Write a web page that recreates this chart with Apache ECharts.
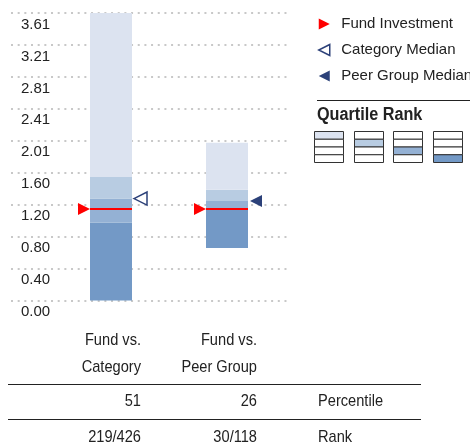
<!DOCTYPE html>
<html>
<head>
<meta charset="utf-8">
<script src="https://cdn.jsdelivr.net/npm/echarts@6/dist/echarts.min.js"></script>
<style>
  html, body { margin: 0; padding: 0; background: #ffffff; }
  #chart { width: 470px; height: 447px; }
</style>
</head>
<body>
<div id="chart"></div>
<script>
// Comparison groups (one stacked quartile bar each)
const groups = ['Fund vs.\nCategory', 'Fund vs.\nPeer Group'];

// Quartile boundaries of each group, bottom to top
const rangeLow     = [0.00, 0.66];
const quartile3Low = [0.98, 1.14];
const medianValue  = [1.28, 1.25];
const quartile1Low = [1.55, 1.39];
const rangeHigh    = [3.61, 1.98];

// Fund value and the two medians
const fundValue       = [1.15, 1.15];
const categoryMedian  = [[0, 1.28]];
const peerGroupMedian = [[1, 1.25]];

// Value axis
const yMax = 3.61;
const yTickLabels = ['0.00', '0.40', '0.80', '1.20', '1.60', '2.01', '2.41', '2.81', '3.21', '3.61'];

// Table under the bars
const percentile = ['51', '26'];
const rank = ['219/426', '30/118'];
const rowLabels = ['Percentile', 'Rank'];

const legendNames = ['Fund Investment', 'Category Median', 'Peer Group Median'];

const FONT = "'Liberation Sans', Arial, sans-serif";
const TEXT = '#222222';
const NAVY = '#2c4179';
const RED = '#ff0000';
const QUARTILE_COLORS = ['#dce3f0', '#b8cce2', '#94b1d4', '#7399c6']; // 1st .. 4th quartile
const BAR_W = 42;
const NARROW = 0.86; // horizontal squeeze for the table text
const step = yMax / 9;

function renderQuartiles(params, api) {
  const i = api.value(0);
  const stops = [api.value(1), api.value(2), api.value(3), api.value(4), api.value(5)];
  const cx = api.coord([i, 0])[0];
  const children = [];
  for (let k = 0; k < 4; k++) {
    const yTop = api.coord([i, stops[k + 1]])[1];
    const yBot = api.coord([i, stops[k]])[1];
    children.push({
      type: 'rect',
      shape: { x: cx - BAR_W / 2, y: yTop, width: BAR_W, height: yBot - yTop },
      style: { fill: QUARTILE_COLORS[3 - k] }
    });
  }
  return { type: 'group', children };
}

function renderFund(params, api) {
  const p = api.coord([api.value(0), api.value(1)]);
  const x0 = p[0] - BAR_W / 2, x1 = p[0] + BAR_W / 2, y = p[1];
  return {
    type: 'group',
    children: [
      { type: 'line', shape: { x1: x0, y1: y, x2: x1, y2: y }, style: { stroke: RED, lineWidth: 2 } },
      { type: 'polygon', shape: { points: [[x0 - 12, y - 6], [x0, y], [x0 - 12, y + 6]] }, style: { fill: RED } }
    ]
  };
}

function medianRenderer(hollow) {
  return function (params, api) {
    const p = api.coord([api.value(0), api.value(1)]);
    const xt = p[0] + BAR_W / 2 + 2, y = p[1];
    const pts = hollow
      ? [[xt, y], [xt + 13, y - 6.5], [xt + 13, y + 6.5]]
      : [[xt, y], [xt + 12, y - 6], [xt + 12, y + 6]];
    return {
      type: 'polygon',
      shape: { points: pts },
      style: hollow ? { fill: '#ffffff', stroke: NAVY, lineWidth: 1.5 } : { fill: NAVY }
    };
  };
}

const option = {
  animation: false,
  backgroundColor: '#ffffff',
  textStyle: { fontFamily: FONT },
  grid: [
    { left: 11, right: 180, top: 13, bottom: 146.5 },
    { left: 53, right: 185, top: 13, bottom: 146.5 }
  ],
  xAxis: [
    { type: 'category', gridIndex: 0, data: groups, show: false },
    { type: 'category', gridIndex: 1, data: groups, show: false }
  ],
  yAxis: [
    {
      type: 'value', gridIndex: 0, min: 0, max: yMax, interval: step,
      axisLine: { show: false }, axisTick: { show: false },
      axisLabel: {
        inside: true, margin: 10, verticalAlign: 'top', padding: [4, 0, 0, 0],
        fontFamily: FONT, fontSize: 15, color: TEXT,
        formatter: v => yTickLabels[Math.round(v / step)]
      },
      splitLine: { lineStyle: { color: '#c8c8c8', width: 2, type: [2, 4.67] } }
    },
    { type: 'value', gridIndex: 1, min: 0, max: yMax, show: false, splitLine: { show: false } }
  ],
  legend: {
    orient: 'vertical', left: 318, top: 15, padding: 0,
    itemWidth: 12, itemHeight: 11, itemGap: 8,
    selectedMode: false,
    textStyle: { fontFamily: FONT, fontSize: 15, color: TEXT, lineHeight: 18, padding: [0, 0, 0, 6] },
    data: [
      { name: legendNames[0], icon: 'path://M0,0L10,5L0,10Z', itemStyle: { color: RED } },
      { name: legendNames[1], icon: 'path://M10,0L0,5L10,10Z', itemStyle: { color: '#ffffff', borderColor: NAVY, borderWidth: 1.5 } },
      { name: legendNames[2], icon: 'path://M10,0L0,5L10,10Z', itemStyle: { color: NAVY } }
    ]
  },
  series: [
    {
      name: 'Quartiles', type: 'custom', xAxisIndex: 1, yAxisIndex: 1, z: 2,
      renderItem: renderQuartiles,
      encode: { x: 0, y: [1, 2, 3, 4, 5] },
      data: groups.map((g, i) => [i, rangeLow[i], quartile3Low[i], medianValue[i], quartile1Low[i], rangeHigh[i]])
    },
    {
      name: legendNames[0], type: 'custom', xAxisIndex: 1, yAxisIndex: 1, z: 3,
      itemStyle: { color: RED },
      renderItem: renderFund, encode: { x: 0, y: 1 },
      data: fundValue.map((v, i) => [i, v])
    },
    {
      name: legendNames[1], type: 'custom', xAxisIndex: 1, yAxisIndex: 1, z: 3,
      itemStyle: { color: NAVY },
      renderItem: medianRenderer(true), encode: { x: 0, y: 1 },
      data: categoryMedian
    },
    {
      name: legendNames[2], type: 'custom', xAxisIndex: 1, yAxisIndex: 1, z: 3,
      itemStyle: { color: NAVY },
      renderItem: medianRenderer(false), encode: { x: 0, y: 1 },
      data: peerGroupMedian
    }
  ]
};

const chart = echarts.init(document.getElementById('chart'), null, { renderer: 'canvas' });
chart.setOption(option);

// Table and quartile-rank key, laid out from the bar positions
const colX = groups.map((g, i) => chart.convertToPixel({ xAxisIndex: 1 }, i));
const colRight = colX.map(x => Math.round(x + 30));
const labelLeft = Math.round(colX[1] + 91);
const txt = (text, x, y, align, font, squeeze) => ({
  type: 'text', x, y, scaleX: squeeze || NARROW,
  style: { text, fill: TEXT, font: font || ('17px ' + FONT), align, verticalAlign: 'middle' }
});

const graphic = [];
// group headers
groups.forEach((g, i) => {
  const lines = g.split('\n');
  graphic.push(txt(lines[0], colRight[i], 340, 'right'));
  graphic.push(txt(lines[1], colRight[i], 367, 'right'));
});
// rule lines
[384.5, 419.5].forEach(y => graphic.push({
  type: 'line', shape: { x1: 8, y1: y, x2: 421, y2: y }, style: { stroke: '#222', lineWidth: 1 }
}));
// rows
[percentile, rank].forEach((row, r) => {
  const y = r === 0 ? 401 : 437;
  row.forEach((v, i) => graphic.push(txt(v, colRight[i], y, 'right')));
  graphic.push(txt(rowLabels[r], labelLeft, y, 'left'));
});

// quartile rank key
graphic.push({ type: 'line', shape: { x1: 317, y1: 100.5, x2: 470, y2: 100.5 }, style: { stroke: '#222', lineWidth: 1 } });
graphic.push(txt('Quartile Rank', 317, 115, 'left', 'bold 18px ' + FONT, 0.9));
[314, 354, 393, 433].forEach((x0, k) => {
  const rowH = 7.75, top = 131.5;
  for (let r = 0; r < 4; r++) {
    graphic.push({
      type: 'rect',
      shape: { x: x0 + 0.5, y: top + r * rowH, width: 29, height: rowH },
      style: { fill: r === k ? QUARTILE_COLORS[k] : '#ffffff', stroke: '#333', lineWidth: 1 }
    });
  }
});

chart.setOption({ graphic });
</script>
</body>
</html>
